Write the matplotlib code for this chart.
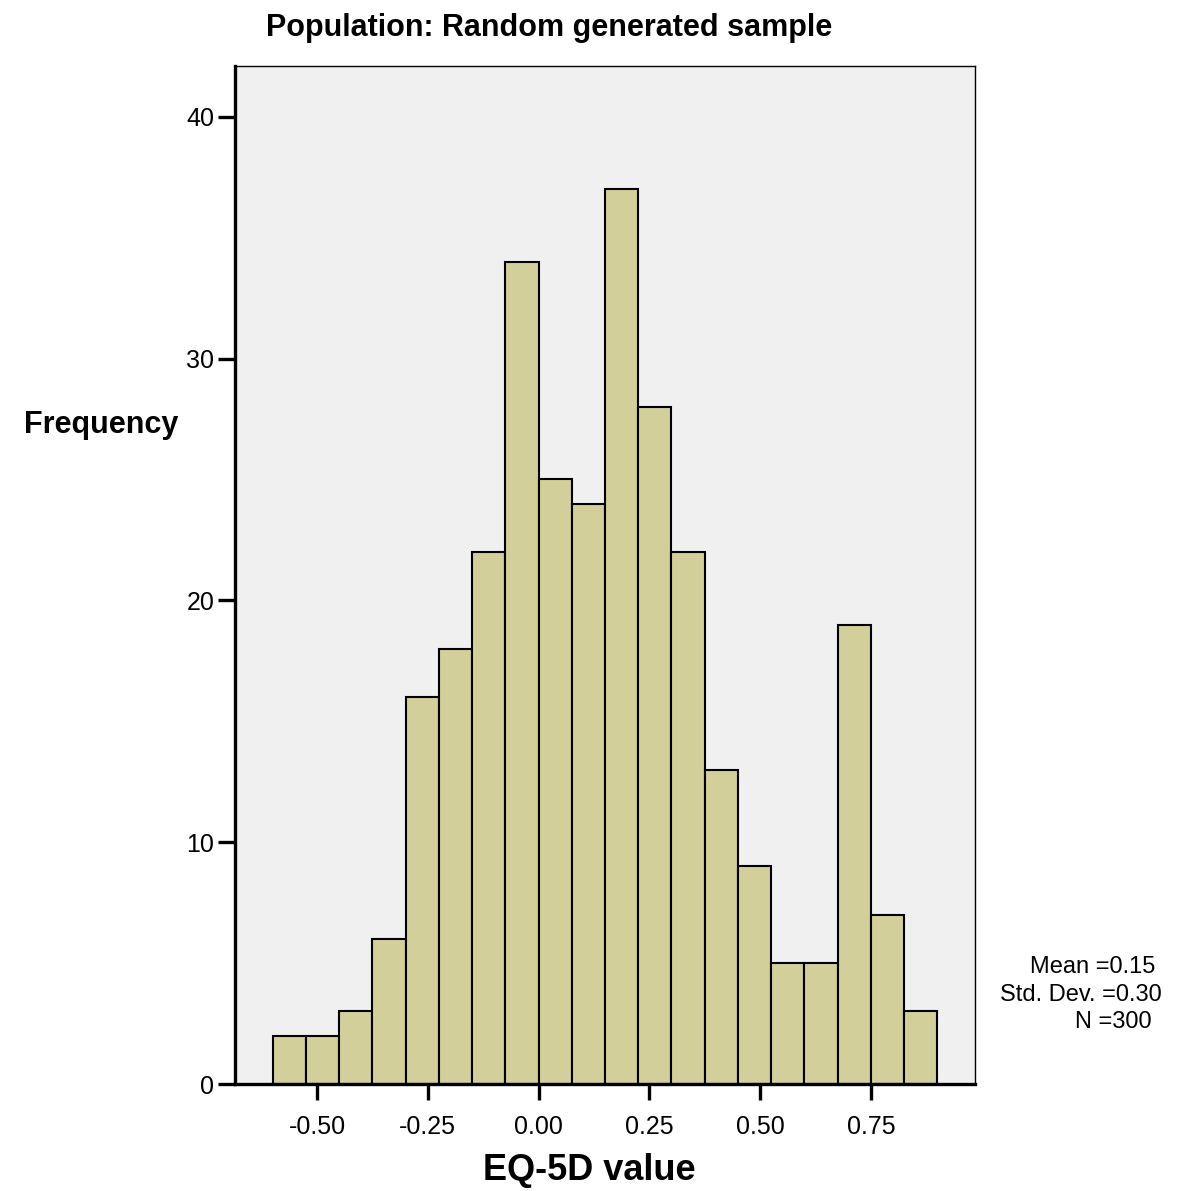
import numpy as np
import matplotlib.pyplot as plt

plt.rcParams["font.family"] = ["Liberation Sans", "DejaVu Sans"]

bin_edges = np.round(np.arange(-0.6, 0.9001, 0.075), 3)
counts = [2, 2, 3, 6, 16, 18, 22, 34, 25, 24, 37, 28, 22, 13, 9, 5, 5, 19, 7, 3]
xticks = [-0.50, -0.25, 0.00, 0.25, 0.50, 0.75]
yticks = [0, 10, 20, 30, 40]
stats_lines = ["Mean =0.15", "Std. Dev. =0.30", "N =300"]

W, H = 1200, 1191
fig = plt.figure(figsize=(W / 100, H / 100), dpi=100)
ax = fig.add_axes([235 / W, (H - 1084) / H, (975 - 235) / W, (1084 - 66) / H])
ax.set_facecolor("#f0f0f0")

widths = np.diff(bin_edges)
ax.bar(bin_edges[:-1], counts, width=widths, align="edge",
       color="#d3cf9b", edgecolor="black", linewidth=1.5)

ax.set_xlim(-0.685, 0.985)
ax.set_ylim(0, 42.1)
ax.set_xticks(xticks)
ax.set_xticklabels([f"{t:.2f}" for t in xticks])
ax.set_yticks(yticks)

ax.spines["left"].set_linewidth(2.4)
ax.spines["bottom"].set_linewidth(2.4)
ax.spines["top"].set_linewidth(1.0)
ax.spines["right"].set_linewidth(1.0)
ax.tick_params(axis="x", direction="out", length=11.5, width=2.4, labelsize=18, pad=11)
ax.tick_params(axis="y", direction="out", length=12, width=2.4, labelsize=18, pad=3)

# titles placed in figure pixels like the original
fig.text(549 / W, 1 - 28 / H, "Population: Random generated sample",
         fontsize=22, fontweight="bold", ha="center", va="center")
fig.text(589 / W, 1 - 1170 / H, "EQ-5D value",
         fontsize=26, fontweight="bold", ha="center", va="center")
fig.text(101 / W, 1 - 425 / H, "Frequency",
         fontsize=22, fontweight="bold", ha="center", va="center")

for txt, x, y in zip(stats_lines, [1030, 1000, 1075], [967, 995, 1022]):
    fig.text(x / W, 1 - y / H, txt, fontsize=17, ha="left", va="center")

fig.savefig("out.png", dpi=100)
